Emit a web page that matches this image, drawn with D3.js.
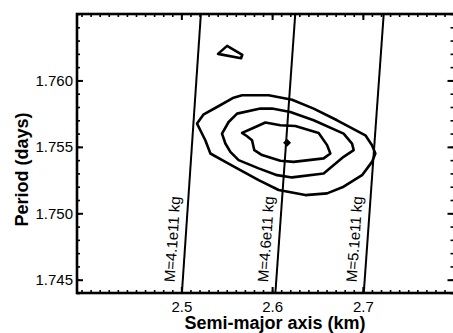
<!DOCTYPE html>
<html>
<head>
<meta charset="utf-8">
<script src="https://cdn.jsdelivr.net/npm/d3@7"></script>
<style>
  body { margin: 0; background: #fff; }
  svg { display: block; }
  text { font-family: "Liberation Sans", Arial, Helvetica, sans-serif; fill: #000; }
</style>
</head>
<body>
<div id="chart"></div>
<script>
// tick labels
const xTicks = [2.5, 2.6, 2.7];
const yTicks = [1.745, 1.750, 1.755, 1.760];

// constant-mass lines: semi-major axis at the bottom (P=1.744) and top (P=1.765) of the plot
const massLabels = ["M=4.1e11 kg", "M=4.6e11 kg", "M=5.1e11 kg"];
const massBottomA = [2.5006, 2.6036, 2.7010];
const massTopA = [2.5215, 2.6255, 2.7230];

// best fit
const bestFit = [2.6165, 1.7553];

// contour levels [a (km), P (days)]
const contourOuter = [
  [2.5173, 1.75675], [2.5246, 1.75745], [2.5393, 1.7580], [2.5576, 1.7587], [2.5669, 1.75888],
  [2.5962, 1.75888], [2.6220, 1.75855], [2.6458, 1.75788], [2.6716, 1.7570], [2.7028, 1.75587],
  [2.7101, 1.75512], [2.7138, 1.7545], [2.7101, 1.75387], [2.6991, 1.75287], [2.6788, 1.7520],
  [2.6606, 1.7515], [2.6366, 1.75137], [2.6072, 1.75175], [2.5852, 1.7525], [2.5650, 1.75325],
  [2.5485, 1.75387], [2.5320, 1.7545], [2.5264, 1.7555], [2.5209, 1.75625]
];
const contourMiddle = [
  [2.5448, 1.7560], [2.5521, 1.75687], [2.5614, 1.7575], [2.5871, 1.75788], [2.5999, 1.75788],
  [2.6201, 1.75762], [2.6458, 1.7570], [2.6788, 1.7560], [2.6881, 1.75525], [2.6899, 1.75475],
  [2.6788, 1.75425], [2.6568, 1.7530], [2.6220, 1.7527], [2.6055, 1.75287], [2.5852, 1.75338],
  [2.5631, 1.7540], [2.5540, 1.75462], [2.5485, 1.75525]
];
const contourInner = [
  [2.5669, 1.75605], [2.5779, 1.75638], [2.5926, 1.75683], [2.6091, 1.75663], [2.6256, 1.75657],
  [2.6513, 1.75605], [2.6606, 1.75513], [2.6642, 1.7545], [2.6568, 1.75413], [2.6237, 1.75387],
  [2.6091, 1.75395], [2.5889, 1.75438], [2.5804, 1.75475], [2.5779, 1.7555], [2.5724, 1.7558]
];
const contourIsland = [
  [2.5404, 1.7620], [2.5504, 1.7626], [2.5672, 1.76193], [2.5658, 1.76167]
];

const width = 453, height = 333;
const margin = { left: 77, right: 454.5, top: 14, bottom: 293 };

const svg = d3.select("#chart").append("svg")
  .attr("width", width)
  .attr("height", height);

const x = d3.scaleLinear().domain([2.385, 2.801]).range([margin.left, margin.right]);
const y = d3.scaleLinear().domain([1.744, 1.765]).range([margin.bottom, margin.top]);

// axes, ticks pointing inward
function addAxis(axis, tx, ty, minor) {
  const g = svg.append("g")
    .attr("transform", "translate(" + tx + "," + ty + ")")
    .call(axis);
  g.select(".domain").remove();
  g.selectAll("line").attr("stroke", "#000").attr("stroke-width", minor ? 1.6 : 2);
  g.selectAll("text").style("font-size", "15px").attr("fill", "#000");
  return g;
}

const xMinor = x.ticks(40);
const yMinor = y.ticks(20);

// bottom
addAxis(d3.axisBottom(x).tickValues(xMinor).tickSize(-3).tickFormat(""), 0, margin.bottom, true);
addAxis(d3.axisBottom(x).tickValues(xTicks).tickSize(-6).tickPadding(8).tickFormat(d3.format(".1f")), 0, margin.bottom, false);
// top
addAxis(d3.axisTop(x).tickValues(xMinor).tickSize(-3).tickFormat(""), 0, margin.top, true);
addAxis(d3.axisTop(x).tickValues(xTicks).tickSize(-6).tickFormat(""), 0, margin.top, false);
// left
addAxis(d3.axisLeft(y).tickValues(yMinor).tickSize(-3).tickFormat(""), margin.left, 0, true);
addAxis(d3.axisLeft(y).tickValues(yTicks).tickSize(-6).tickPadding(4).tickFormat(d3.format(".3f")), margin.left, 0, false);
// right
addAxis(d3.axisRight(y).tickValues(yMinor).tickSize(-4).tickFormat(""), margin.right, 0, true);
addAxis(d3.axisRight(y).tickValues(yTicks).tickSize(-7).tickFormat(""), margin.right, 0, false);

// frame
svg.append("rect")
  .attr("x", x(2.385)).attr("y", y(1.765))
  .attr("width", x(2.801) - x(2.385))
  .attr("height", y(1.744) - y(1.765))
  .attr("fill", "none")
  .attr("stroke", "#000")
  .attr("stroke-width", 2.6);

// mass lines
const pBottom = 1.744, pTop = 1.765, pLabel = 1.74475;
const massData = massLabels.map((label, i) => ({ label, a0: massBottomA[i], a1: massTopA[i] }));

svg.selectAll(".mass")
  .data(massData).enter().append("line")
  .attr("class", "mass")
  .attr("x1", d => x(d.a0)).attr("y1", y(pBottom))
  .attr("x2", d => x(d.a1)).attr("y2", y(pTop))
  .attr("stroke", "#000")
  .attr("stroke-width", 2);

svg.selectAll(".massLabel")
  .data(massData).enter().append("text")
  .attr("class", "massLabel")
  .attr("transform", d => {
    const t = (pLabel - pBottom) / (pTop - pBottom);
    const px = x(d.a0 + (d.a1 - d.a0) * t);
    const ang = Math.atan2(y(pTop) - y(pBottom), x(d.a1) - x(d.a0)) * 180 / Math.PI;
    return "translate(" + px + "," + y(pLabel) + ") rotate(" + ang + ")";
  })
  .attr("y", -8)
  .style("font-size", "15px")
  .text(d => d.label);

// contours
const line = d3.line()
  .x(d => x(d[0]))
  .y(d => y(d[1]))
  .curve(d3.curveLinearClosed);

svg.selectAll(".contour")
  .data([contourOuter, contourMiddle, contourInner, contourIsland])
  .enter().append("path")
  .attr("class", "contour")
  .attr("d", line)
  .attr("fill", "none")
  .attr("stroke", "#000")
  .attr("stroke-width", 2.6)
  .attr("stroke-linejoin", "round");

// best-fit marker
svg.append("path")
  .attr("d", d3.symbol(d3.symbolSquare, 32)())
  .attr("transform", "translate(" + x(bestFit[0]) + "," + y(bestFit[1]) + ") rotate(45)")
  .attr("fill", "#000");

// axis titles
svg.append("text")
  .attr("x", 275).attr("y", 329)
  .attr("text-anchor", "middle")
  .style("font-size", "18px").style("font-weight", "bold")
  .text("Semi-major axis (km)");

svg.append("text")
  .attr("transform", "translate(28,169.5) rotate(-90)")
  .attr("text-anchor", "middle")
  .style("font-size", "18px").style("font-weight", "bold")
  .text("Period (days)");
</script>
</body>
</html>
